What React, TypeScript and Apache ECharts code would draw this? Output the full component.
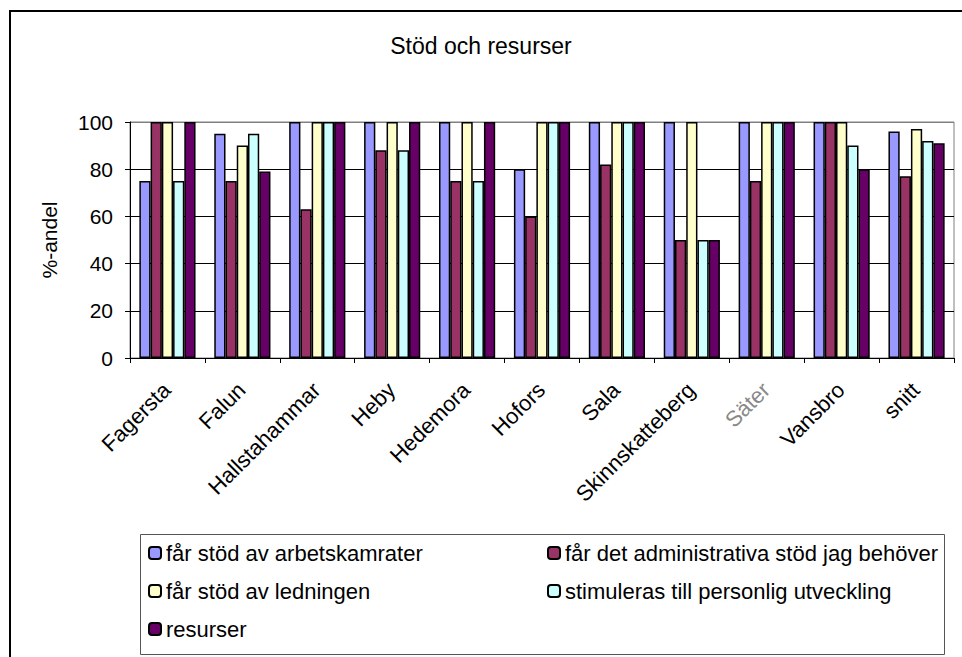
import React, { useEffect, useRef } from "react";
import * as echarts from "echarts";

const categories = ["Fagersta", "Falun", "Hallstahammar", "Heby", "Hedemora", "Hofors", "Sala", "Skinnskatteberg", "Säter", "Vansbro", "snitt"];
const seriesNames = [
  "får stöd av arbetskamrater",
  "får det administrativa stöd jag behöver",
  "får stöd av ledningen",
  "stimuleras till personlig utveckling",
  "resurser",
];
const arbetskamrater = [75, 95, 100, 100, 100, 80, 100, 100, 100, 100, 96];
const administrativa = [100, 75, 63, 88, 75, 60, 82, 50, 75, 100, 77];
const ledningen = [100, 90, 100, 100, 100, 100, 100, 100, 100, 100, 97];
const utveckling = [75, 95, 100, 88, 75, 100, 100, 50, 100, 90, 92];
const resurser = [100, 79, 100, 100, 100, 100, 100, 50, 100, 80, 91];
const yTicks = [0, 20, 40, 60, 80, 100];
const colors = ["#9999FF", "#993366", "#FFFFCC", "#CCFFFF", "#660066"];

const FONT = "'Liberation Sans', Arial, sans-serif";

export default function App() {
  const ref = useRef<HTMLDivElement>(null);
  useEffect(() => {
    if (!ref.current) return;
    const chart = echarts.init(ref.current, null, { renderer: "svg" });
    const values = [arbetskamrater, administrativa, ledningen, utveckling, resurser];
    const legendPos = [
      { left: 148, top: 542 },
      { left: 547, top: 542 },
      { left: 148, top: 580 },
      { left: 547, top: 580 },
      { left: 148, top: 618 },
    ];
    chart.setOption({
      animation: false,
      backgroundColor: "#ffffff",
      title: {
        text: "Stöd och resurser",
        left: "center",
        top: 34,
        padding: 0,
        textStyle: { fontFamily: FONT, fontSize: 23, fontWeight: "normal", color: "#000" },
      },
      graphic: [
        {
          type: "rect",
          shape: { x: 10, y: 11, width: 970, height: 670 },
          style: { fill: "none", stroke: "#000", lineWidth: 2 },
          silent: true,
        },
        {
          type: "rect",
          shape: { x: 140.5, y: 534.5, width: 804, height: 120 },
          style: { fill: "none", stroke: "#555", lineWidth: 1 },
          silent: true,
        },
      ],
      legend: seriesNames.map((n, i) => ({
        data: [n],
        left: legendPos[i].left,
        top: legendPos[i].top,
        padding: 0,
        itemWidth: 12,
        itemHeight: 12,
        selectedMode: false,
        textStyle: { fontFamily: FONT, fontSize: 22, color: "#000" },
      })),
      grid: {
        left: 130,
        right: 8,
        top: 122,
        bottom: 299,
        show: true,
        borderColor: "#808080",
        borderWidth: 1,
        containLabel: false,
      },
      xAxis: {
        type: "category",
        data: categories,
        axisLine: { lineStyle: { color: "#000", width: 1 } },
        axisTick: { show: true, length: 5, lineStyle: { color: "#000" } },
        axisLabel: {
          rotate: 45,
          interval: 0,
          margin: 12,
          verticalAlign: "top",
          padding: [0, 12, 0, 0],
          fontFamily: FONT,
          fontSize: 22,
          color: (v: string) => (v === "Säter" ? "#888888" : "#000000"),
        },
      },
      yAxis: {
        type: "value",
        min: 0,
        max: 100,
        interval: 20,
        name: "%-andel",
        nameLocation: "middle",
        nameGap: 70,
        nameTextStyle: { fontFamily: FONT, fontSize: 21, color: "#000" },
        axisLine: { show: true, lineStyle: { color: "#000", width: 1 } },
        axisTick: { show: true, length: 5, lineStyle: { color: "#000" } },
        axisLabel: {
          margin: 17,
          fontFamily: FONT,
          fontSize: 21,
          color: "#000",
          formatter: (v: number) => (yTicks.includes(v) ? String(v) : ""),
        },
        splitLine: {
          show: true,
          lineStyle: { color: ["#000", "#000", "#000", "#000", "#000", "#808080"], width: 1 },
        },
      },
      series: seriesNames.map((n, i) => ({
        name: n,
        type: "bar",
        data: values[i],
        barGap: "0%",
        barCategoryGap: "25%",
        itemStyle: { color: colors[i], borderColor: "#000", borderWidth: 1.5 },
      })),
    });
    return () => chart.dispose();
  }, []);
  return (
    <div
      ref={ref}
      style={{ position: "fixed", left: 0, top: 0, width: 962, height: 657 }}
    />
  );
}
